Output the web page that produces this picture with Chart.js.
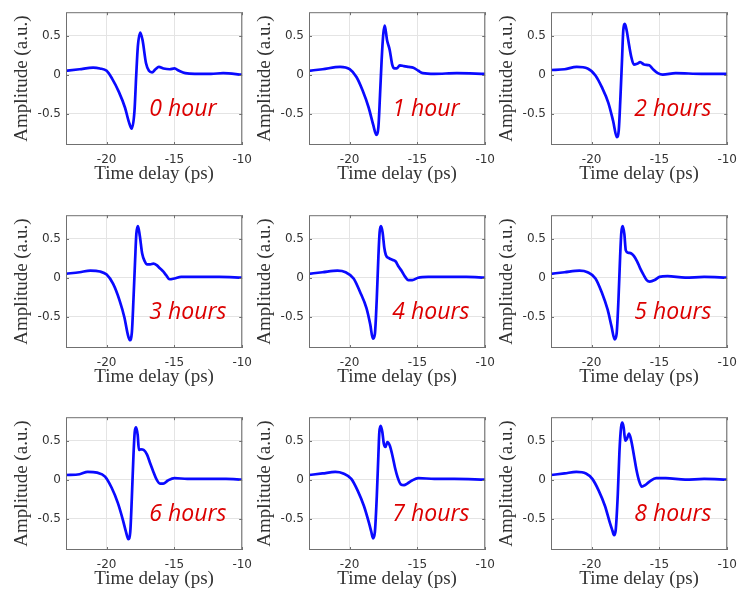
<!DOCTYPE html>
<html>
<head>
<meta charset="utf-8">
<script src="https://cdn.jsdelivr.net/npm/chart.js@4.4.1/dist/chart.umd.min.js"></script>
<style>
  html, body { margin: 0; padding: 0; background: #fff; overflow: hidden; }
  #grid { position: relative; width: 738px; height: 595px; }
  #grid canvas { position: absolute; }
</style>
</head>
<body>
<div id="grid"></div>
<script>
// panel captions, in reading order
const hourLabels = ['0 hour', '1 hour', '2 hours', '3 hours', '4 hours', '5 hours', '6 hours', '7 hours', '8 hours'];
const xTicks = [-20, -15, -10];
const yTicks = [-0.5, 0, 0.5];

// time delay (ps) / amplitude (a.u.)
const time0 = [-23, -22, -21, -20.5, -20, -19.6, -19.1, -18.65, -18.35, -18.15, -17.95, -17.82, -17.7, -17.52, -17.35, -17.1, -16.88, -16.65, -16.4, -16.15, -15.8, -15.35, -15, -14.65, -14.2, -13.5, -12.3, -11.4, -10];
const amp0 = [0.05, 0.07, 0.09, 0.08, 0.05, -0.05, -0.22, -0.42, -0.61, -0.69, -0.47, -0.01, 0.36, 0.54, 0.44, 0.15, 0.05, 0.03, 0.07, 0.10, 0.08, 0.07, 0.08, 0.05, 0.02, 0.01, 0.01, 0.02, 0.0];

const time1 = [-23, -22, -20.7, -20, -19.5, -19.05, -18.6, -18.25, -18.04, -17.88, -17.76, -17.64, -17.52, -17.41, -17.24, -17.05, -16.86, -16.7, -16.53, -16.3, -16, -15.65, -15.3, -14.93, -14.6, -13.75, -12.1, -10];
const amp1 = [0.05, 0.07, 0.10, 0.07, -0.03, -0.20, -0.42, -0.65, -0.77, -0.67, -0.26, 0.19, 0.52, 0.63, 0.44, 0.32, 0.13, 0.08, 0.08, 0.12, 0.11, 0.10, 0.09, 0.05, 0.02, 0.01, 0.02, 0.01];

const time2 = [-23, -22, -21.1, -20.3, -19.72, -19.25, -18.77, -18.42, -18.14, -18.0, -17.88, -17.76, -17.67, -17.55, -17.41, -17.24, -17.08, -16.89, -16.65, -16.42, -16.13, -15.75, -15.47, -15.12, -14.76, -13.8, -11.9, -10];
const amp2 = [0.06, 0.07, 0.10, 0.08, -0.01, -0.16, -0.36, -0.59, -0.80, -0.71, -0.30, 0.19, 0.56, 0.65, 0.56, 0.38, 0.23, 0.13, 0.14, 0.16, 0.13, 0.12, 0.07, 0.02, 0.0, 0.02, 0.01, 0.01];

const time3 = [-23, -22, -21.2, -20.5, -20, -19.52, -19.05, -18.69, -18.45, -18.29, -18.14, -18.02, -17.9, -17.81, -17.69, -17.55, -17.38, -17.19, -17.02, -16.79, -16.55, -16.31, -16.07, -15.83, -15.6, -15.36, -15.0, -14.5, -13.6, -11.7, -10];
const amp3 = [0.05, 0.07, 0.09, 0.08, 0.04, -0.08, -0.29, -0.51, -0.72, -0.80, -0.70, -0.27, 0.23, 0.56, 0.66, 0.53, 0.31, 0.21, 0.17, 0.17, 0.18, 0.16, 0.12, 0.08, 0.03, -0.02, -0.01, 0.01, 0.01, 0.01, 0.0];

const time4 = [-23, -22, -20.9, -20.3, -19.71, -19.24, -18.76, -18.48, -18.29, -18.14, -18.0, -17.88, -17.79, -17.69, -17.57, -17.45, -17.33, -17.1, -16.86, -16.62, -16.38, -16.14, -15.9, -15.67, -15.38, -14.95, -14.2, -12.8, -11.4, -10];
const amp4 = [0.05, 0.07, 0.09, 0.07, -0.01, -0.18, -0.39, -0.60, -0.78, -0.72, -0.27, 0.27, 0.58, 0.66, 0.58, 0.39, 0.29, 0.25, 0.23, 0.21, 0.14, 0.08, 0.01, -0.03, -0.03, 0.0, 0.01, 0.01, 0.01, 0.0];

const time5 = [-23, -22, -20.9, -20.3, -19.72, -19.25, -18.82, -18.54, -18.3, -18.16, -18.02, -17.9, -17.81, -17.71, -17.59, -17.48, -17.31, -17.08, -16.89, -16.65, -16.42, -16.18, -15.94, -15.71, -15.35, -15.0, -14.4, -13.1, -11.7, -10];
const amp5 = [0.05, 0.07, 0.09, 0.07, -0.01, -0.19, -0.41, -0.62, -0.79, -0.72, -0.27, 0.27, 0.58, 0.66, 0.56, 0.35, 0.32, 0.31, 0.28, 0.21, 0.12, 0.04, -0.03, -0.05, -0.03, 0.01, 0.02, 0.0, 0.01, 0.0];

const time6 = [-23, -22, -21.4, -20.7, -20.12, -19.64, -19.17, -18.81, -18.57, -18.4, -18.26, -18.14, -18.02, -17.93, -17.83, -17.71, -17.62, -17.48, -17.26, -17.02, -16.79, -16.55, -16.31, -16.07, -15.83, -15.48, -15.0, -14.05, -12.6, -11.2, -10];
const amp6 = [0.06, 0.07, 0.10, 0.09, 0.04, -0.10, -0.30, -0.51, -0.67, -0.76, -0.67, -0.22, 0.32, 0.61, 0.67, 0.57, 0.38, 0.39, 0.38, 0.32, 0.21, 0.10, 0.0, -0.05, -0.05, -0.01, 0.02, 0.01, 0.01, 0.01, 0.0];

const time7 = [-23, -22, -21.06, -20.47, -19.88, -19.41, -18.94, -18.58, -18.4, -18.28, -18.14, -18.0, -17.88, -17.81, -17.71, -17.59, -17.48, -17.36, -17.22, -17.05, -16.86, -16.65, -16.46, -16.23, -15.99, -15.75, -15.4, -14.93, -13.75, -12.3, -10];
const amp7 = [0.06, 0.08, 0.10, 0.08, 0.01, -0.14, -0.34, -0.55, -0.67, -0.75, -0.67, -0.22, 0.32, 0.61, 0.69, 0.61, 0.46, 0.42, 0.48, 0.44, 0.32, 0.15, 0.03, -0.06, -0.07, -0.05, -0.01, 0.02, 0.01, 0.01, 0.0];

const time8 = [-23, -22, -21.13, -20.42, -19.95, -19.48, -19.01, -18.66, -18.47, -18.35, -18.23, -18.07, -17.95, -17.83, -17.74, -17.64, -17.52, -17.41, -17.24, -17.08, -16.89, -16.7, -16.51, -16.3, -16.06, -15.71, -15.24, -14.53, -13.1, -11.7, -10];
const amp8 = [0.06, 0.08, 0.10, 0.08, 0.01, -0.14, -0.34, -0.55, -0.65, -0.71, -0.65, -0.18, 0.36, 0.67, 0.73, 0.67, 0.50, 0.52, 0.59, 0.50, 0.32, 0.13, -0.01, -0.09, -0.07, -0.02, 0.02, 0.02, 0.0, 0.01, 0.0];

const timeSeries = [time0, time1, time2, time3, time4, time5, time6, time7, time8];
const ampSeries = [amp0, amp1, amp2, amp3, amp4, amp5, amp6, amp7, amp8];

// layout of the 3x3 grid (plot-area corners in page pixels)
const colLeft = [66, 309, 551];
const rowTop = [9, 212, 414];
const PLOT_W = 180, PLOT_H = 136;
const Y_AXIS_W = 66, TOP_PAD = 9, RIGHT_PAD = 14, CANVAS_H = 200;

const axisGrey = '#333333';

// MATLAB-like box with inward ticks, plus the red caption
const boxAndCaption = {
  id: 'boxAndCaption',
  afterDatasetsDraw(chart, args, opts) {
    const { ctx, chartArea: a, scales: { x, y } } = chart;
    ctx.save();
    ctx.strokeStyle = '#707070';
    ctx.lineWidth = 1;
    ctx.strokeRect(a.left + 0.5, a.top + 0.5, a.width - 1, a.height - 1);

    ctx.beginPath();
    x.ticks.forEach(t => {
      const px = Math.round(x.getPixelForValue(t.value)) + 0.5;
      ctx.moveTo(px, a.bottom); ctx.lineTo(px, a.bottom - 3);
      ctx.moveTo(px, a.top); ctx.lineTo(px, a.top + 3);
    });
    y.ticks.forEach(t => {
      const py = Math.round(y.getPixelForValue(t.value)) + 0.5;
      ctx.moveTo(a.left, py); ctx.lineTo(a.left + 3, py);
      ctx.moveTo(a.right, py); ctx.lineTo(a.right - 3, py);
    });
    ctx.stroke();

    ctx.fillStyle = '#dc0000';
    ctx.font = 'italic 23px "Open Sans", "Liberation Sans", sans-serif';
    ctx.textAlign = 'left';
    ctx.textBaseline = 'middle';
    ctx.fillText(opts.text, x.getPixelForValue(-16.85), y.getPixelForValue(-0.45));
    ctx.restore();
  }
};

function makePanel(i) {
  const col = i % 3, row = Math.floor(i / 3);
  const canvas = document.createElement('canvas');
  canvas.width = Y_AXIS_W + PLOT_W + RIGHT_PAD;
  canvas.height = CANVAS_H;
  canvas.style.left = (colLeft[col] - Y_AXIS_W) + 'px';
  canvas.style.top = (rowTop[row] - TOP_PAD) + 'px';
  document.getElementById('grid').appendChild(canvas);

  const points = timeSeries[i].map((t, k) => ({ x: t, y: ampSeries[i][k] }));

  return new Chart(canvas, {
    type: 'line',
    data: {
      datasets: [{
        data: points,
        borderColor: '#0a0aff',
        borderWidth: 2.7,
        pointRadius: 0,
        cubicInterpolationMode: 'monotone',
        fill: false
      }]
    },
    options: {
      responsive: false,
      animation: false,
      events: [],
      layout: { padding: { left: 0, top: TOP_PAD, right: RIGHT_PAD, bottom: 0 } },
      plugins: {
        legend: { display: false },
        tooltip: { enabled: false },
        boxAndCaption: { text: hourLabels[i] }
      },
      scales: {
        x: {
          type: 'linear',
          min: -23,
          max: -10,
          afterBuildTicks: s => { s.ticks = xTicks.map(v => ({ value: v })); },
          afterFit: s => { s.height = CANVAS_H - TOP_PAD - PLOT_H; },
          border: { display: false },
          grid: { color: '#e4e4e4', drawTicks: false },
          ticks: {
            padding: 8,
            color: axisGrey,
            font: { family: '"DejaVu Sans", sans-serif', size: 12 }
          },
          title: {
            display: true,
            text: 'Time delay (ps)',
            color: axisGrey,
            padding: { top: 0, bottom: 15 },
            font: { family: '"Liberation Serif", serif', size: 19 }
          }
        },
        y: {
          min: -0.9,
          max: 0.8,
          afterBuildTicks: s => { s.ticks = yTicks.map(v => ({ value: v })); },
          afterFit: s => { s.width = Y_AXIS_W; },
          border: { display: false },
          grid: { color: '#e4e4e4', drawTicks: false },
          ticks: {
            padding: 5,
            color: axisGrey,
            font: { family: '"DejaVu Sans", sans-serif', size: 12 }
          },
          title: {
            display: true,
            text: 'Amplitude (a.u.)',
            color: axisGrey,
            padding: { top: 11, bottom: 0 },
            font: { family: '"Liberation Serif", serif', size: 19 }
          }
        }
      }
    },
    plugins: [boxAndCaption]
  });
}

Promise.all([
  document.fonts.load('italic 23px "Open Sans"'),
  document.fonts.load('19px "Liberation Serif"'),
  document.fonts.load('12px "DejaVu Sans"')
]).catch(() => {}).then(() => {
  hourLabels.forEach((_, i) => makePanel(i));
});
</script>
</body>
</html>
